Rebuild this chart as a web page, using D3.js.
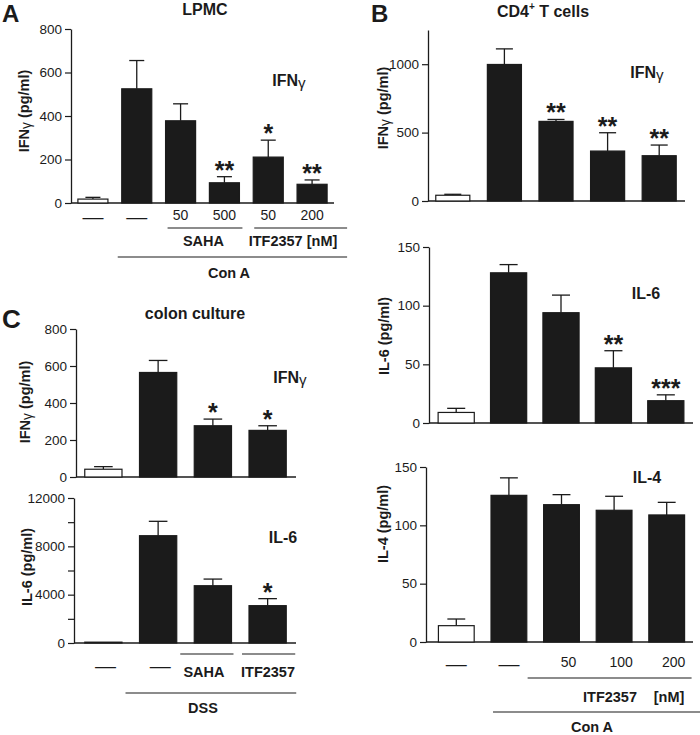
<!DOCTYPE html>
<html>
<head>
<meta charset="utf-8">
<script src="https://cdn.jsdelivr.net/npm/d3@7/dist/d3.min.js"></script>
<style>
  html, body { margin: 0; padding: 0; background: #fff; }
  svg { display: block; font-family: "Liberation Sans", Arial, sans-serif; }
</style>
</head>
<body>
<svg id="chart" width="700" height="735"></svg>
<script>
// ---------- DATA ----------
// Panel A: LPMC, IFNγ
const aCategories = ["ctrl", "ConA", "SAHA 50", "SAHA 500", "ITF 50", "ITF 200"];
const aValues = [18, 525, 378, 93, 211, 86];
const aErrors = [8, 130, 78, 28, 78, 20];
const aSig = ["", "", "", "**", "*", "**"];
const aDoses = ["—", "—", "50", "500", "50", "200"];
const aTicks = [0, 200, 400, 600, 800];

// Panel B: CD4+ T cells
const bCategories = ["ctrl", "ConA", "ITF 50", "ITF 100", "ITF 200"];
const bIfnValues = [42, 998, 582, 365, 331];
const bIfnErrors = [7, 114, 14, 134, 78];
const bIfnSig = ["", "", "**", "**", "**"];
const bIfnTicks = [0, 500, 1000];

const bIl6Values = [9, 128, 94, 47, 19];
const bIl6Errors = [3.5, 7, 15, 14.6, 5];
const bIl6Sig = ["", "", "", "**", "***"];
const bIl6Ticks = [0, 50, 100, 150];

const bIl4Values = [14, 125.7, 117.7, 112.9, 108.9];
const bIl4Errors = [5.7, 15, 8.6, 12, 10.8];
const bIl4Sig = ["", "", "", "", ""];
const bIl4Ticks = [0, 50, 100, 150];
const bDoses = ["—", "—", "50", "100", "200"];

// Panel C: colon culture
const cCategories = ["ctrl", "DSS", "SAHA", "ITF2357"];
const cIfnValues = [42, 565, 277, 252];
const cIfnErrors = [14, 65, 36, 25];
const cIfnSig = ["", "", "*", "*"];
const cIfnTicks = [0, 200, 400, 600, 800];

const cIl6Values = [70, 8880, 4740, 3090];
const cIl6Errors = [0, 1190, 550, 580];
const cIl6Sig = ["", "", "", "*"];
const cIl6Ticks = [0, 2000, 4000, 6000, 8000, 10000, 12000];
const cIl6LabelTicks = [0, 4000, 8000, 12000];
const cDoses = ["—", "—", "", ""];

// ---------- DRAW ----------
const svg = d3.select("#chart");
const INK = "#1b1b1b";

function txt(x, y, s, opts = {}) {
  const t = svg.append("text")
    .attr("x", x).attr("y", y)
    .attr("text-anchor", opts.anchor || "middle")
    .attr("dominant-baseline", opts.baseline || "central")
    .attr("font-size", opts.size || 14)
    .attr("font-weight", opts.weight || "bold")
    .attr("fill", INK);
  if (opts.rotate) t.attr("transform", `rotate(-90 ${x} ${y})`);
  t.text(s);
  return t;
}

// label with gamma in regular weight
function cytoLabel(x, y, base, rest, opts = {}) {
  const t = svg.append("text")
    .attr("x", x).attr("y", y)
    .attr("text-anchor", opts.anchor || "middle")
    .attr("dominant-baseline", "central")
    .attr("font-size", opts.size || 14)
    .attr("font-weight", "bold")
    .attr("fill", INK);
  if (opts.rotate) t.attr("transform", `rotate(-90 ${x} ${y})`);
  t.append("tspan").text(base);
  t.append("tspan").attr("font-weight", "normal").attr("font-size", (opts.size || 14) * 0.95).attr("dy", 1.5).text("γ");
  if (rest) t.append("tspan").attr("dy", -1.5).text(rest);
  return t;
}

function panel(cfg) {
  const y = d3.scaleLinear().domain([0, cfg.max]).range([cfg.zeroY, cfg.topY]);
  const x = d3.scaleBand().domain(cfg.categories).range(cfg.xRange)
    .paddingInner(cfg.pad).paddingOuter(cfg.pad / 2);
  const g = svg.append("g");
  const labelTicks = cfg.labelTicks || cfg.ticks;

  // y axis
  const ax = g.append("g").attr("transform", `translate(${cfg.axisX},0)`)
    .call(d3.axisLeft(y).tickValues(cfg.ticks).tickSize(6).tickSizeOuter(0).tickPadding(3)
      .tickFormat(d => labelTicks.includes(d) ? String(d) : ""));
  ax.select(".domain").attr("stroke", INK).attr("stroke-width", 1.3);
  ax.selectAll(".tick line").attr("stroke", INK).attr("stroke-width", 1.2);
  ax.selectAll(".tick text").attr("font-size", 13.5).attr("fill", INK)
    .attr("font-family", "'Liberation Sans', Arial, sans-serif");

  // x axis line
  g.append("line").attr("x1", cfg.axisX).attr("x2", cfg.axisRight)
    .attr("y1", cfg.zeroY).attr("y2", cfg.zeroY)
    .attr("stroke", INK).attr("stroke-width", 1.3);

  const data = cfg.categories.map((c, i) => ({ c, v: cfg.values[i], e: cfg.errors[i], s: cfg.sig[i], i }));

  // error bars
  const capW = x.bandwidth() * 0.5;
  data.forEach(d => {
    if (d.e <= 0) return;
    const cx = x(d.c) + x.bandwidth() / 2;
    g.append("line").attr("x1", cx).attr("x2", cx).attr("y1", y(d.v)).attr("y2", y(d.v + d.e))
      .attr("stroke", INK).attr("stroke-width", 1.3);
    g.append("line").attr("x1", cx - capW / 2).attr("x2", cx + capW / 2)
      .attr("y1", y(d.v + d.e)).attr("y2", y(d.v + d.e))
      .attr("stroke", INK).attr("stroke-width", 1.3);
  });

  // bars
  g.selectAll("rect.bar").data(data).enter().append("rect")
    .attr("x", d => x(d.c))
    .attr("y", d => y(d.v))
    .attr("width", x.bandwidth())
    .attr("height", d => Math.max(0.8, cfg.zeroY - y(d.v)))
    .attr("fill", d => d.i === 0 ? "#fff" : INK)
    .attr("stroke", INK)
    .attr("stroke-width", 1.2);

  // significance stars
  data.forEach(d => {
    if (!d.s) return;
    const cx = x(d.c) + x.bandwidth() / 2;
    const cy = y(d.v + d.e) - 11;
    svg.append("text").attr("x", cx).attr("y", cy + 13)
      .attr("text-anchor", "middle").attr("font-size", 25).attr("font-weight", "bold")
      .attr("fill", INK).text(d.s);
  });

  return { x, y };
}

function hline(x1, x2, yv) {
  svg.append("line").attr("x1", x1).attr("x2", x2).attr("y1", yv).attr("y2", yv)
    .attr("stroke", INK).attr("stroke-width", 1.2);
}

// ---- Panel A ----
const pA = panel({ categories: aCategories, values: aValues, errors: aErrors, sig: aSig,
  max: 800, ticks: aTicks, axisX: 71, axisRight: 334, zeroY: 203, topY: 29,
  xRange: [71, 334], pad: 0.315 });
txt(2, 22, "A", { anchor: "start", size: 24, baseline: "alphabetic" });
txt(205, 9, "LPMC", { size: 16 });
cytoLabel(289, 80, "IFN", "", { size: 16 });
cytoLabel(24, 111, "IFN", " (pg/ml)", { size: 14.5, rotate: true });
aDoses.forEach((d, i) => {
  const cx = pA.x(aCategories[i]) + pA.x.bandwidth() / 2;
  if (d === "—") txt(cx, 224, d, { size: 21, weight: "normal", baseline: "alphabetic" });
  else txt(cx, 215, d, { size: 14, weight: "normal" });
});
{
  const bw = pA.x.bandwidth();
  hline(pA.x(aCategories[2]) + 2, pA.x(aCategories[3]) + bw + 3, 228);
  hline(pA.x(aCategories[4]) + 1, pA.x(aCategories[5]) + bw + 20, 228);
  hline(pA.x(aCategories[1]) - 4, pA.x(aCategories[5]) + bw + 20, 257);
  txt((pA.x(aCategories[2]) + pA.x(aCategories[3]) + bw) / 2 + 1, 241, "SAHA", { size: 14.5 });
  txt(293, 241, "ITF2357 [nM]", { size: 14.5 });
  txt(229, 273, "Con A", { size: 14.5 });
}

// ---- Panel B ----
const pB1 = panel({ categories: bCategories, values: bIfnValues, errors: bIfnErrors, sig: bIfnSig,
  max: 1250, ticks: bIfnTicks, axisX: 428, axisRight: 685, zeroY: 201, topY: 30,
  xRange: [427, 685], pad: 0.34 });
txt(371, 22, "B", { anchor: "start", size: 24, baseline: "alphabetic" });
{
  const t = svg.append("text").attr("x", 543).attr("y", 11).attr("text-anchor", "middle")
    .attr("dominant-baseline", "central").attr("font-size", 16).attr("font-weight", "bold").attr("fill", INK);
  t.append("tspan").text("CD4");
  t.append("tspan").attr("font-size", 10).attr("dy", -5).text("+");
  t.append("tspan").attr("dy", 5).text(" T cells");
}
cytoLabel(647, 72, "IFN", "", { size: 16 });
cytoLabel(383, 108, "IFN", " (pg/ml)", { size: 14.5, rotate: true });

const pB2 = panel({ categories: bCategories, values: bIl6Values, errors: bIl6Errors, sig: bIl6Sig,
  max: 150, ticks: bIl6Ticks, axisX: 429, axisRight: 693, zeroY: 423, topY: 247,
  xRange: [430, 692], pad: 0.31 });
txt(646, 293, "IL-6", { size: 16 });
txt(384, 336, "IL-6 (pg/ml)", { size: 14.5, rotate: true });

const pB3 = panel({ categories: bCategories, values: bIl4Values, errors: bIl4Errors, sig: bIl4Sig,
  max: 150, ticks: bIl4Ticks, axisX: 426, axisRight: 693, zeroY: 642, topY: 467,
  xRange: [430, 693], pad: 0.32 });
txt(647, 477, "IL-4", { size: 16 });
txt(383, 524, "IL-4 (pg/ml)", { size: 14.5, rotate: true });
bDoses.forEach((d, i) => {
  const cx = pB3.x(bCategories[i]) + pB3.x.bandwidth() / 2;
  if (d === "—") txt(cx, 671, d, { size: 21, weight: "normal", baseline: "alphabetic" });
  else txt(cx + 7, 662, d, { size: 14, weight: "normal" });
});
{
  const bw = pB3.x.bandwidth();
  hline(pB3.x(bCategories[2]) - 16, pB3.x(bCategories[4]) + bw + 7, 678);
  hline(pB3.x(bCategories[1]) + 2, 700, 712);
  txt(610, 697, "ITF2357", { size: 14.5 });
  txt(669, 697, "[nM]", { size: 14.5 });
  txt(592, 732, "Con A", { size: 14.5, baseline: "alphabetic" });
}

// ---- Panel C ----
const pC1 = panel({ categories: cCategories, values: cIfnValues, errors: cIfnErrors, sig: cIfnSig,
  max: 800, ticks: cIfnTicks, axisX: 76, axisRight: 296, zeroY: 477, topY: 329,
  xRange: [76, 295], pad: 0.32 });
txt(2, 328, "C", { anchor: "start", size: 26, baseline: "alphabetic" });
txt(195, 313, "colon culture", { size: 16 });
cytoLabel(290, 377, "IFN", "", { size: 16 });
cytoLabel(25, 402, "IFN", " (pg/ml)", { size: 14.5, rotate: true });

const pC2 = panel({ categories: cCategories, values: cIl6Values, errors: cIl6Errors, sig: cIl6Sig,
  max: 12000, ticks: cIl6Ticks, labelTicks: cIl6LabelTicks, axisX: 74, axisRight: 296, zeroY: 643, topY: 498,
  xRange: [76, 295], pad: 0.32 });
txt(283, 537, "IL-6", { size: 16 });
txt(27, 567, "IL-6 (pg/ml)", { size: 14.5, rotate: true });
cDoses.forEach((d, i) => {
  if (!d) return;
  const cx = pC2.x(cCategories[i]) + pC2.x.bandwidth() / 2;
  txt(cx + 2, 673, d, { size: 21, weight: "normal", baseline: "alphabetic" });
});
{
  const bw = pC2.x.bandwidth();
  hline(pC2.x(cCategories[2]) - 14, pC2.x(cCategories[2]) + bw + 2, 654);
  hline(pC2.x(cCategories[3]) - 7, pC2.x(cCategories[3]) + bw + 9, 654);
  hline(pC2.x(cCategories[1]) - 14, pC2.x(cCategories[3]) + bw + 10, 693);
  txt(204, 672, "SAHA", { size: 14.5 });
  txt(268, 672, "ITF2357", { size: 14.5 });
  txt(203, 708, "DSS", { size: 14.5 });
}
</script>
</body>
</html>
